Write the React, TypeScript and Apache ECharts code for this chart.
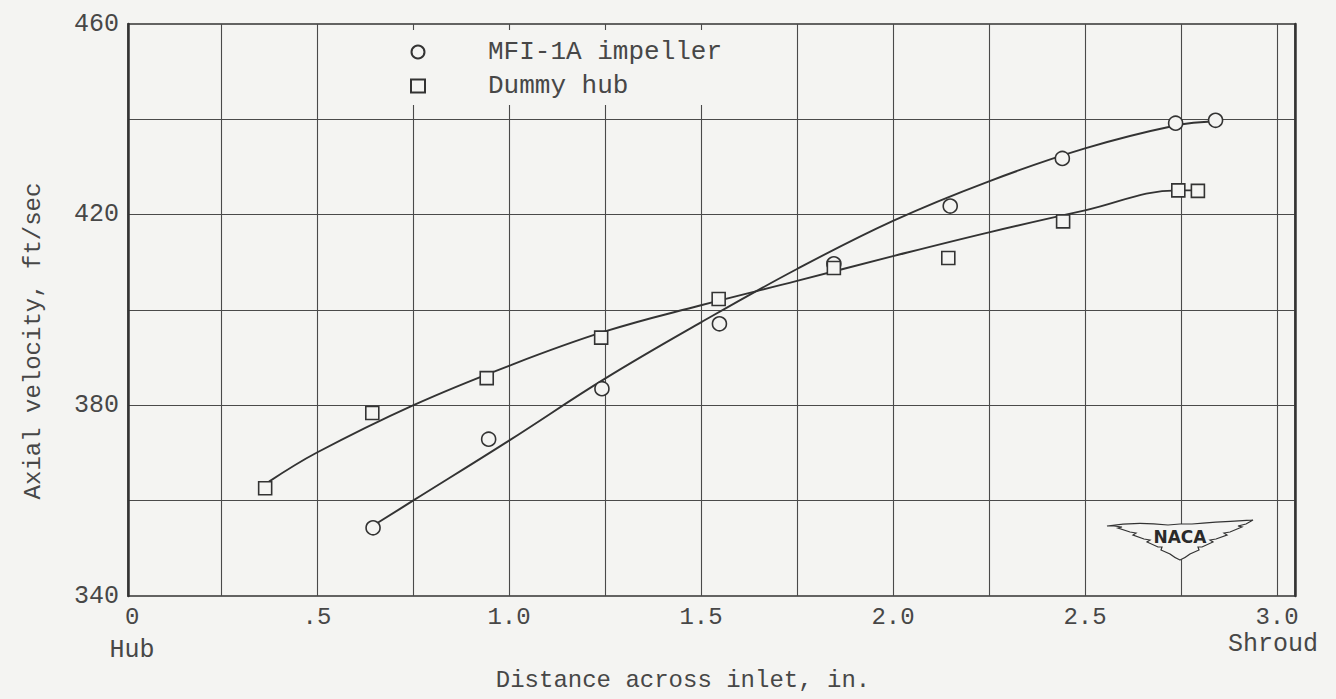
import React, { useEffect, useRef } from "react";
import * as echarts from "echarts";

// ---- data ----
const mfiX = [0.646, 0.947, 1.242, 1.548, 1.846, 2.149, 2.441, 2.736, 2.84];
const mfiY = [354.3, 372.9, 383.5, 397.1, 409.7, 421.8, 431.8, 439.2, 439.8];

const dummyX = [0.365, 0.644, 0.942, 1.24, 1.546, 1.846, 2.144, 2.443, 2.743, 2.794];
const dummyY = [362.6, 378.4, 385.7, 394.2, 402.3, 408.8, 410.9, 418.6, 425.1, 425.0];

// faired curves drawn through the data
const mfiCurveX = [0.655, 0.75, 1.0, 1.25, 1.5, 1.75, 2.0, 2.25, 2.5, 2.736, 2.84];
const mfiCurveY = [355.2, 360.0, 372.6, 385.6, 397.4, 408.6, 418.7, 427.0, 433.9, 438.7, 439.6];

const dummyCurveX = [0.375, 0.5, 0.75, 1.0, 1.25, 1.5, 1.75, 2.0, 2.25, 2.5, 2.743, 2.794];
const dummyCurveY = [364.0, 370.1, 380.0, 388.3, 395.5, 401.0, 406.1, 411.3, 416.3, 420.9, 425.1, 425.1];

const seriesNames = ["MFI-1A impeller", "Dummy hub"];
const xTitle = "Distance across inlet, in.";
const yTitle = "Axial velocity, ft/sec";

const BG = "#f4f4f2";
const INK = "#333333";
const TEXT = "#474747";
const MONO = '"Liberation Mono", "DejaVu Sans Mono", monospace';

const wingPath =
  "M -73 3 C -55 0 -30 0 -12 2 L 0 1 L 12 1 C 35 -1 55 -2 73 -3 " +
  "L 66 1 L 58 3 L 62 4 L 50 9 L 44 10 L 47 12 L 36 16 L 30 17 L 33 19 L 22 24 L 18 24 L 19 27 L 10 31 " +
  "Q 5 35 0 37 Q -5 35 -10 31 " +
  "L -19 27 L -18 24 L -22 24 L -33 19 L -30 17 L -36 16 L -47 12 L -44 10 L -50 9 L -62 5 L -58 4 L -66 3 Z";

let registered = false;

const zip = (xs: number[], ys: number[]) => xs.map((x, i) => [x, ys[i]]);

const centeredText = (text: string, x: number, y: number, fontSize: number, extra: any = {}) => ({
  type: "text",
  x,
  y,
  z: 100,
  ...extra,
  style: {
    text,
    fontFamily: MONO,
    fontSize,
    fill: TEXT,
    align: "center",
    verticalAlign: "middle",
    textAlign: "center",
    textVerticalAlign: "middle",
  },
});

export default function App() {
  const ref = useRef<HTMLDivElement>(null);

  useEffect(() => {
    if (!ref.current) return;
    if (!registered) {
      echarts.graphic.registerShape("nacaWing", echarts.graphic.extendPath(wingPath, {}));
      registered = true;
    }
    const chart = echarts.init(ref.current, null, { renderer: "svg" });

    const xLabel = (v: number) => {
      const r = Math.round(v * 100) / 100;
      if (Math.abs(r * 2 - Math.round(r * 2)) > 1e-6) return "";
      if (r === 0) return "0";
      if (r === 0.5) return ".5";
      return r.toFixed(1);
    };

    const option: any = {
      animation: false,
      backgroundColor: BG,
      grid: [
        {
          left: 128,
          right: 41,
          top: 24,
          bottom: 103,
          show: true,
          borderColor: INK,
          borderWidth: 1.5,
          backgroundColor: "transparent",
        },
        { left: 125, right: 59, top: 24, bottom: 103 },
      ],
      xAxis: [
        { gridIndex: 0, type: "value", min: 0, max: 1, show: false },
        {
          gridIndex: 1,
          type: "value",
          min: 0,
          max: 3,
          interval: 0.25,
          axisLine: { show: false },
          axisTick: { show: false },
          splitLine: {
            show: true,
            showMinLine: false,
            showMaxLine: true,
            lineStyle: { color: "#4a4a4a", width: 1.1 },
          },
          axisLabel: {
            formatter: xLabel,
            fontFamily: MONO,
            fontSize: 24,
            color: TEXT,
            margin: 9,
            alignMinLabel: "left",
          },
        },
      ],
      yAxis: [
        {
          gridIndex: 0,
          type: "value",
          min: 340,
          max: 460,
          interval: 20,
          axisLine: { show: true, lineStyle: { color: INK, width: 2.5 } },
          axisTick: { show: false },
          splitLine: {
            show: true,
            showMinLine: false,
            showMaxLine: false,
            lineStyle: { color: "#4a4a4a", width: 1.1 },
          },
          axisLabel: {
            formatter: (v: number) => ((v - 340) % 40 === 0 ? String(v) : ""),
            fontFamily: MONO,
            fontSize: 25,
            color: TEXT,
            margin: 9,
          },
        },
        { gridIndex: 1, type: "value", min: 340, max: 460, show: false },
        {
          gridIndex: 0,
          type: "value",
          min: 340,
          max: 460,
          position: "right",
          axisLine: { show: true, lineStyle: { color: INK, width: 2.5 } },
          axisTick: { show: false },
          axisLabel: { show: false },
          splitLine: { show: false },
        },
      ],
      legend: {
        data: seriesNames,
        orient: "vertical",
        left: 398,
        top: 30,
        padding: [8, 10, 5, 12],
        itemGap: 6,
        itemWidth: 14,
        itemHeight: 13,
        backgroundColor: BG,
        selectedMode: false,
        textStyle: {
          fontFamily: MONO,
          fontSize: 26,
          lineHeight: 28,
          color: TEXT,
          padding: [0, 0, 0, 58],
        },
      },
      series: [
        {
          name: "MFI curve",
          type: "line",
          xAxisIndex: 1,
          yAxisIndex: 1,
          data: zip(mfiCurveX, mfiCurveY),
          smooth: 0.4,
          showSymbol: false,
          lineStyle: { color: INK, width: 1.9 },
          z: 2,
        },
        {
          name: "Dummy curve",
          type: "line",
          xAxisIndex: 1,
          yAxisIndex: 1,
          data: zip(dummyCurveX, dummyCurveY),
          smooth: 0.4,
          showSymbol: false,
          lineStyle: { color: INK, width: 1.9 },
          z: 2,
        },
        {
          name: seriesNames[0],
          type: "scatter",
          xAxisIndex: 1,
          yAxisIndex: 1,
          data: zip(mfiX, mfiY),
          symbol: "circle",
          symbolSize: 14,
          itemStyle: { color: BG, borderColor: INK, borderWidth: 1.6, opacity: 1 },
          z: 4,
        },
        {
          name: seriesNames[1],
          type: "scatter",
          xAxisIndex: 1,
          yAxisIndex: 1,
          data: zip(dummyX, dummyY),
          symbol: "rect",
          symbolSize: 13,
          itemStyle: { color: BG, borderColor: INK, borderWidth: 1.6, opacity: 1 },
          z: 4,
        },
      ],
      graphic: [
        centeredText(yTitle, 33, 341, 24, { rotation: Math.PI / 2 }),
        centeredText(xTitle, 683, 680, 24),
        centeredText("Hub", 132, 650, 25),
        centeredText("Shroud", 1273, 644, 25),
        {
          type: "nacaWing",
          x: 1180,
          y: 523,
          z: 100,
          style: { fill: BG, stroke: INK, lineWidth: 1.2 },
        },
        {
          type: "text",
          x: 1180,
          y: 537,
          z: 101,
          style: {
            text: "NACA",
            fontFamily: '"DejaVu Sans", sans-serif',
            fontSize: 17,
            fontWeight: "bold",
            fill: "#2a2a2a",
            align: "center",
            verticalAlign: "middle",
            textAlign: "center",
            textVerticalAlign: "middle",
          },
        },
      ],
    };

    chart.setOption(option);
    return () => chart.dispose();
  }, []);

  return (
    <div
      ref={ref}
      style={{ position: "absolute", left: 0, top: 0, width: 1336, height: 699, background: BG }}
    />
  );
}
